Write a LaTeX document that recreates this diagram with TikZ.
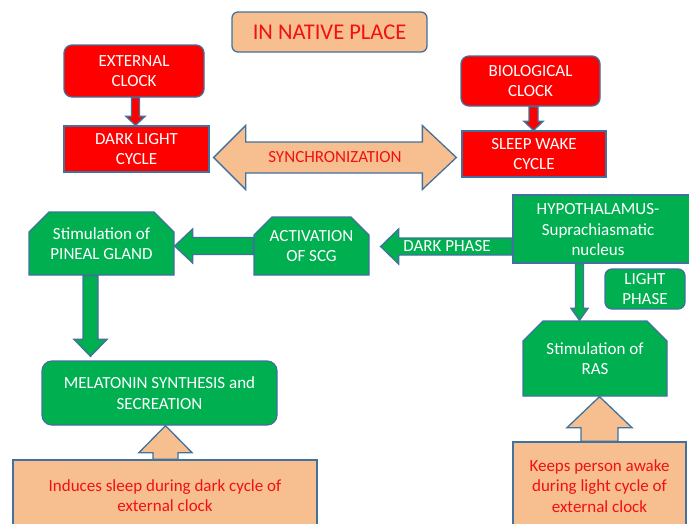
\documentclass[tikz,border=0pt]{standalone}
\usepackage{fontspec}
\setmainfont{Carlito}
\usetikzlibrary{shapes.misc,backgrounds,calc}
\definecolor{bordc}{HTML}{41719C}
\definecolor{boxred}{HTML}{FF0000}
\definecolor{boxgreen}{HTML}{00B050}
\definecolor{peach}{HTML}{F7BF90}
\definecolor{txtred}{HTML}{F21010}
\tikzset{
  bd/.style={draw=bordc, line width=1.3pt, line join=miter},
  txt/.style={font=\fontsize{17}{20.5}\selectfont, align=center, inner sep=0pt},
  redbox/.style={bd, txt, fill=boxred, text=white},
  greenbox/.style={bd, txt, fill=boxgreen, text=white},
  peachbox/.style={bd, txt, fill=peach, text=txtred},
  roundbox/.style={rounded corners=#1},
  snipbox/.style={chamfered rectangle, chamfered rectangle corners={north west,north east},
    chamfered rectangle xsep=#1, chamfered rectangle ysep=#1},
  redarrow/.style={bd, fill=boxred},
  greenarrow/.style={bd, fill=boxgreen},
  peacharrow/.style={bd, fill=peach},
  whitetxt/.style={txt, text=white},
  redtxt/.style={txt, text=txtred},
}
% block arrow pointing down: style, start point, tip point, x, half shaft, half head, head length
\newcommand\blockdown[7]{\draw[#1] let \p1=#2, \p2=#3 in
  (#4-#5,\y1) -- (#4+#5,\y1) -- (#4+#5,\y2+#7) -- (#4+#6,\y2+#7) -- (#4,\y2)
  -- (#4-#6,\y2+#7) -- (#4-#5,\y2+#7) -- cycle;}
\newcommand\blockup[7]{\draw[#1] let \p1=#2, \p2=#3 in
  (#4-#5,\y1) -- (#4+#5,\y1) -- (#4+#5,\y2-#7) -- (#4+#6,\y2-#7) -- (#4,\y2)
  -- (#4-#6,\y2-#7) -- (#4-#5,\y2-#7) -- cycle;}
% block arrow pointing left: style, start point, tip point, point giving y, half shaft, half head, head length
\newcommand\blockleft[7]{\draw[#1] let \p1=#2, \p2=#3, \p3=#4 in
  (\x1,\y3+#5) -- (\x2+#7,\y3+#5) -- (\x2+#7,\y3+#6) -- (\x2,\y3) -- (\x2+#7,\y3-#6)
  -- (\x2+#7,\y3-#5) -- (\x1,\y3-#5) -- cycle;}
\begin{document}
\begin{tikzpicture}[x=1pt,y=-1pt]
\useasboundingbox (0,0) rectangle (689,523);
\clip (0,0) rectangle (689,523);

% top row
\node[peachbox, roundbox=6pt, minimum width=195pt, minimum height=40pt,
      font=\fontsize{22.5}{26}\selectfont] (nat) at (329.5,32) {IN NATIVE PLACE};
\node[redbox, roundbox=8pt, minimum width=140pt, minimum height=52pt] (ext) at (134,71) {EXTERNAL\\CLOCK};
\node[redbox, minimum width=145pt, minimum height=46pt] (dlc) at (136.5,149) {DARK LIGHT\\CYCLE};
\node[redbox, roundbox=8pt, minimum width=139pt, minimum height=50pt] (bio) at (530.5,81) {BIOLOGICAL\\CLOCK};
\node[redbox, minimum width=144pt, minimum height=46pt] (sww) at (534,154) {SLEEP WAKE\\CYCLE};
\node[redtxt] (sync) at (335,157.5) {SYNCHRONIZATION};

% middle row
\node[greenbox, minimum width=187pt, minimum height=68pt] (hyp) at (606.5,229) {};
\node[whitetxt] (hyptext) at (598,230) {HYPOTHALAMUS-\\Suprachiasmatic\\nucleus};
\node[whitetxt] (dp) at (447,246.5) {DARK PHASE};
\node[greenbox, snipbox=9pt, minimum width=115pt, minimum height=58pt] (act) at (311.5,246) {ACTIVATION\\OF SCG};
\node[greenbox, snipbox=10pt, minimum width=145pt, minimum height=63pt] (pin) at (101.5,243.5) {Stimulation of\\PINEAL GLAND};
\node[greenbox, roundbox=7pt, minimum width=80pt, minimum height=40pt] (lp) at (645,289) {LIGHT\\PHASE};
\node[greenbox, snipbox=10pt, minimum width=144pt, minimum height=75pt] (ras) at (595,358.5) {Stimulation of\\RAS};

% bottom row
\node[greenbox, roundbox=10pt, minimum width=235pt, minimum height=64pt] (mel) at (159.5,393) {MELATONIN SYNTHESIS and\\SECREATION};
\node[peachbox, minimum width=304pt, minimum height=71pt] (ind) at (165,495.5) {Induces sleep during dark cycle of\\external clock};
\node[peachbox, minimum width=173pt, minimum height=88pt] (keep) at (599.5,486) {Keeps person awake\\during light cycle of\\external clock};

\begin{scope}[on background layer]
  \blockdown{redarrow}{(ext.south)}{(dlc.north)}{135.5pt}{4pt}{9.5pt}{9pt}
  \blockdown{redarrow}{(bio.south)}{(sww.north)}{533.5pt}{4.5pt}{9.5pt}{9pt}
  \draw[peacharrow] let \p1=([xshift=4pt]dlc.east), \p2=([xshift=-5pt]sww.west), \p3=(sync.center) in
    (\x1,\y3) -- (\x1+32pt,\y3+32pt) -- (\x1+32pt,\y3+15.5pt) -- (\x2-34pt,\y3+15.5pt)
    -- (\x2-34pt,\y3+32pt) -- (\x2,\y3) -- (\x2-34pt,\y3-32pt) -- (\x2-34pt,\y3-15.5pt)
    -- (\x1+32pt,\y3-15.5pt) -- (\x1+32pt,\y3-32pt) -- cycle;
  \blockleft{greenarrow}{(hyp.west)}{([xshift=11pt]act.east)}{(dp)}{8.5pt}{17.5pt}{18pt}
  \blockleft{greenarrow}{(act.west)}{(pin.east)}{(act)}{8.5pt}{17pt}{18pt}
  \blockdown{greenarrow}{(pin.south)}{([yshift=4pt]mel.north)}{90.5pt}{7.5pt}{16.5pt}{17pt}
  \blockdown{greenarrow}{(hyp.south)}{(ras.north)}{579.5pt}{4pt}{8.5pt}{12pt}
  \blockup{peacharrow}{(ind.north)}{(mel.south)}{165.5pt}{12.5pt}{26.5pt}{27pt}
  \blockup{peacharrow}{(keep.north)}{(ras.south)}{599.5pt}{18.5pt}{32.5pt}{31pt}
\end{scope}
\end{tikzpicture}
\end{document}
